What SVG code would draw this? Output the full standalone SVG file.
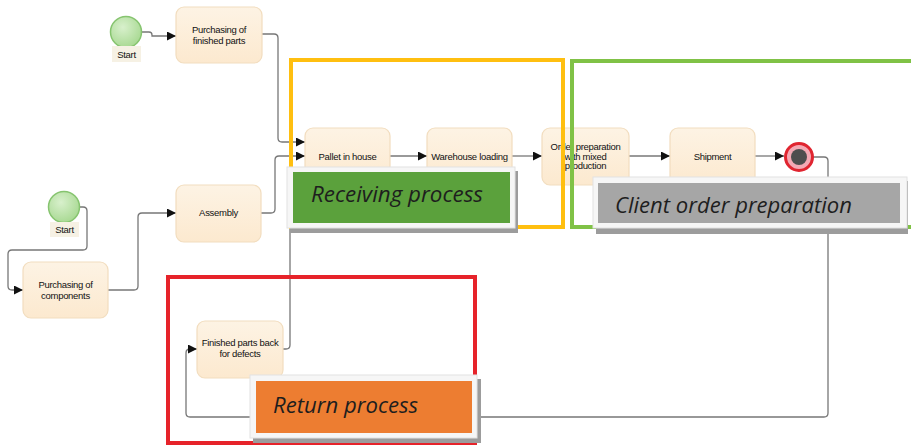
<svg xmlns="http://www.w3.org/2000/svg" width="911" height="446" viewBox="0 0 911 446">
  <defs>
    <linearGradient id="taskFill" x1="0" y1="0" x2="0" y2="1">
      <stop offset="0" stop-color="#FDF3E4"/>
      <stop offset="1" stop-color="#FCE9CF"/>
    </linearGradient>
    <radialGradient id="startFill" cx="0.4" cy="0.35" r="0.7">
      <stop offset="0" stop-color="#D8F0CC"/>
      <stop offset="1" stop-color="#A6D890"/>
    </radialGradient>
    <marker id="arrow" viewBox="0 0 10 10" refX="10" refY="5" markerWidth="9" markerHeight="9" markerUnits="userSpaceOnUse" orient="auto">
      <path d="M0,0 L10,5 L0,10 Z" fill="#111"/>
    </marker>
  </defs>
  <style>
    .task { fill: url(#taskFill); stroke: #F2DDBF; stroke-width: 1.2; }
    .tl { font-family: "Liberation Sans", Arial, sans-serif; font-size: 9.5px; fill: #111; text-anchor: middle; letter-spacing: -0.3px; }
    .conn { fill: none; stroke: #777; stroke-width: 1.3; }
    .arr { marker-end: url(#arrow); }
    .start { fill: url(#startFill); stroke: #86C46F; stroke-width: 1.5; }
    .startbg { fill: #F6F1E4; }
    .frame { fill: none; stroke-width: 4; }
    .lblshadow { fill: #9C9C9C; }
    .lblborder { fill: #F6F6F6; stroke: #E2E2E2; stroke-width: 1; }
    .lbltext { font-family: "Open Sans", "Noto Sans", "Liberation Sans", sans-serif; font-style: italic; font-size: 21.5px; fill: #1E1E1E; }
  </style>

  <!-- connectors -->
  <g id="connectors">
    <path class="conn arr" d="M142,32 H149 Q152,32 152,35 V36 H176"/>
    <path class="conn arr" d="M262,34 H274 Q278,34 278,38 V138 Q278,142 282,142 H305"/>
    <path class="conn arr" d="M80,207 H83 Q87,207 87,211 V246 Q87,250 83,250 H12 Q8,250 8,254 V286 Q8,290 12,290 H23"/>
    <path class="conn arr" d="M108,290 H134 Q138,290 138,286 V217 Q138,213 142,213 H176"/>
    <path class="conn arr" d="M261,213 H271 Q275,213 275,209 V160 Q275,156 279,156 H305"/>
    <path class="conn arr" d="M390,156 H427"/>
    <path class="conn arr" d="M512,156 H542"/>
    <path class="conn arr" d="M629,156 H670"/>
    <path class="conn arr" d="M755,156 H784"/>
    <path class="conn arr" d="M813,157 H824 Q828,157 828,161 V413 Q828,417 824,417 H190 Q186,417 186,413 V353 Q186,349 190,349 H197"/>
    <path class="conn" d="M283,349 H286 Q290,349 290,345 V190"/>
  </g>

  <!-- start events -->
  <g id="start1">
    <circle class="start" cx="126" cy="32" r="15.5"/>
    <rect class="startbg" x="112" y="46" width="29" height="16"/>
    <text class="tl" x="126.5" y="57.5">Start</text>
  </g>
  <g id="start2">
    <circle class="start" cx="64" cy="207" r="15.5"/>
    <rect class="startbg" x="50" y="222" width="29" height="15"/>
    <text class="tl" x="64.5" y="233">Start</text>
  </g>

  <!-- tasks -->
  <g id="purchasing-finished">
    <rect class="task" x="176" y="7" width="86" height="56" rx="8"/>
    <text class="tl" x="219" y="33">Purchasing of</text>
    <text class="tl" x="219" y="44">finished parts</text>
  </g>
  <g id="purchasing-components">
    <rect class="task" x="23" y="262" width="85" height="56" rx="8"/>
    <text class="tl" x="65.5" y="287.5">Purchasing of</text>
    <text class="tl" x="65.5" y="298.5">components</text>
  </g>
  <g id="assembly">
    <rect class="task" x="176" y="185" width="85" height="57" rx="8"/>
    <text class="tl" x="218.5" y="216">Assembly</text>
  </g>
  <g id="pallet">
    <rect class="task" x="305" y="128" width="85" height="57" rx="8"/>
    <text class="tl" x="347.5" y="159.5">Pallet in house</text>
  </g>
  <g id="warehouse">
    <rect class="task" x="427" y="128" width="85" height="57" rx="8"/>
    <text class="tl" x="469.5" y="159.5">Warehouse loading</text>
  </g>
  <g id="order-prep">
    <rect class="task" x="542" y="128" width="87" height="57" rx="8"/>
    <text class="tl" x="585.5" y="150">Order preparation</text>
    <text class="tl" x="585.5" y="159.5">with mixed</text>
    <text class="tl" x="585.5" y="169">production</text>
  </g>
  <g id="shipment">
    <rect class="task" x="670" y="128" width="85" height="57" rx="8"/>
    <text class="tl" x="712.5" y="159.5">Shipment</text>
  </g>
  <g id="returns">
    <rect class="task" x="197" y="321" width="86" height="57" rx="8"/>
    <text class="tl" x="240" y="346">Finished parts back</text>
    <text class="tl" x="240" y="357">for defects</text>
  </g>

  <!-- end event -->
  <g id="end">
    <circle cx="799" cy="157" r="13.5" fill="#F4A9B4" stroke="#E02530" stroke-width="3"/>
    <circle cx="799" cy="157" r="8" fill="#4E4E4E"/>
  </g>

  <!-- process frames -->
  <g id="frames">
    <rect class="frame" x="291" y="60" width="272" height="167" stroke="#FFBF10"/>
    <rect class="frame" x="572" y="61" width="360" height="166" stroke="#80C246"/>
    <rect class="frame" x="168" y="277" width="307" height="166" stroke="#E6232A"/>
  </g>

  <!-- process labels -->
  <g id="label-receiving">
    <rect class="lblshadow" x="290" y="171" width="228" height="62"/>
    <rect class="lblborder" x="287" y="167" width="228" height="61"/>
    <rect x="293" y="172" width="217" height="51" fill="#5BA13C"/>
    <text class="lbltext" x="311" y="202" textLength="172" lengthAdjust="spacingAndGlyphs">Receiving process</text>
  </g>
  <g id="label-client">
    <rect class="lblshadow" x="596" y="181" width="312" height="53"/>
    <rect class="lblborder" x="593" y="177" width="314" height="51"/>
    <rect x="598" y="183" width="302" height="40" fill="#A6A6A6"/>
    <text class="lbltext" x="615" y="213" textLength="237" lengthAdjust="spacingAndGlyphs">Client order preparation</text>
  </g>
  <g id="label-return">
    <rect class="lblshadow" x="253" y="379" width="228" height="64" fill="#A8978C"/>
    <rect class="lblborder" x="250" y="375" width="227" height="63"/>
    <rect x="256" y="381" width="216" height="52" fill="#ED7D31"/>
    <text class="lbltext" x="273" y="413" textLength="145" lengthAdjust="spacingAndGlyphs">Return process</text>
  </g>
</svg>
